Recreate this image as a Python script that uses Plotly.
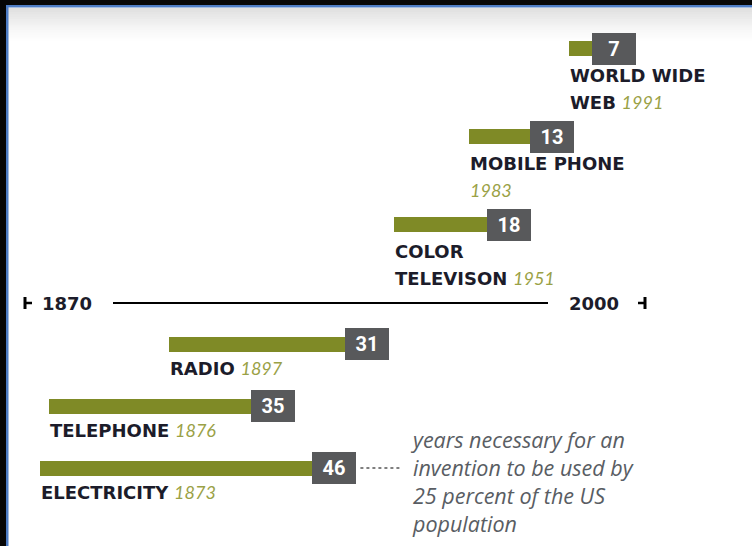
import plotly.graph_objects as go

# ---------------- data ----------------
inventions = ["ELECTRICITY", "TELEPHONE", "RADIO", "COLOR TELEVISON", "MOBILE PHONE", "WORLD WIDE WEB"]
invented_year = [1873, 1876, 1897, 1951, 1983, 1991]
years_to_quarter = [46, 35, 31, 18, 13, 7]
timeline_years = [1870, 2000]
note_lines = ["years necessary for an", "invention to be used by", "25 percent of the US", "population"]

# ---------------- layout parameters ----------------
W, H = 752, 546
PX_PER_YEAR = 6.4                      # bar-length scale (px per year of adoption)
bar_left = [6.25, 7.65, 26.4, 61.6, 73.3, 88.9]   # infographic placement of each bar start
break_after = [0, 0, 0, 1, 2, 2]       # words of the name on first label line (0 = one line)

GREEN = "#7f8a26"
BOX = "#58595b"
NAME_COL = "#1c1c2a"
YEAR_COL = "#9aa146"
NOTE_COL = "#595d63"
BOLD_FONT = "DejaVu Sans"
YEAR_FONT = "Lato"
NOTE_FONT = "Open Sans"

# label lines & line counts
label_lines = []
for name, yr, k in zip(inventions, invented_year, break_after):
    yr_txt = f"<i><span style='font-family:{YEAR_FONT};color:{YEAR_COL}'>{yr}</span></i>"
    words = name.split()
    if k == 0:
        label_lines.append([f"<b>{name}</b> {yr_txt}"])
    else:
        first = " ".join(words[:k])
        rest = " ".join(words[k:])
        second = (f"<b>{rest}</b> " if rest else "") + yr_txt
        label_lines.append([f"<b>{first}</b>", second])
nlines = [len(l) for l in label_lines]

# vertical stacking (y axis in pixel units, top = 0)
BOTTOM_ROW = 468
ROW_BASE, LINE_H, TIMELINE_GAP, LABEL_OFF = 36, 26, 31.5, 24
row_y = [BOTTOM_ROW]
for i in range(1, len(inventions)):
    gap = ROW_BASE + LINE_H * nlines[i]
    if invented_year[i - 1] < 1930 <= invented_year[i]:
        gap += TIMELINE_GAP
    row_y.append(row_y[-1] - gap)
timeline_y = row_y[2] - 41

fig = go.Figure()

fig.add_trace(go.Bar(
    orientation="h", y=row_y, x=years_to_quarter, base=bar_left,
    width=15, marker=dict(color=GREEN, line=dict(width=0)),
    hoverinfo="skip", showlegend=False,
))
# invisible trace to activate timeline axis
fig.add_trace(go.Scatter(x=timeline_years, y=[timeline_y] * 2, xaxis="x2", mode="markers",
                         marker=dict(opacity=0), hoverinfo="skip", showlegend=False))

annotations = []
shapes = []

# value boxes and labels
for i in range(len(inventions)):
    end = bar_left[i] + years_to_quarter[i]
    annotations.append(dict(
        x=end, y=row_y[i], xref="x", yref="y", text=f"<b>{years_to_quarter[i]}</b>",
        showarrow=False, xanchor="center", yanchor="middle",
        font=dict(family="Roboto", size=20, color="white"),
        bgcolor=BOX, width=44, height=32, borderpad=0, borderwidth=0,
    ))
    extra = 3 if nlines[i] == 2 else 0
    for j, line in enumerate(label_lines[i]):
        annotations.append(dict(
            x=bar_left[i], y=row_y[i] + LABEL_OFF + extra + j * LINE_H, xref="x", yref="y",
            text=line, showarrow=False, xanchor="left", yanchor="middle", align="left",
            xshift=-1, font=dict(family=BOLD_FONT, size=18, color=NAME_COL),
        ))

# dotted leader + note
box_half = 22 / PX_PER_YEAR
e_end = bar_left[0] + years_to_quarter[0]
dot_x0 = e_end + box_half + 4 / PX_PER_YEAR
dot_x1 = dot_x0 + 42 / PX_PER_YEAR
shapes.append(dict(type="line", xref="x", yref="y", x0=dot_x0, x1=dot_x1,
                   y0=row_y[0], y1=row_y[0], line=dict(color="#555", width=1.5, dash="dot")))
annotations.append(dict(
    x=dot_x1, y=row_y[0] - 45, xref="x", yref="y", xshift=6,
    text="<br>".join(f"<i>{l}</i>" for l in note_lines),
    showarrow=False, xanchor="left", yanchor="top", align="left",
    font=dict(family=NOTE_FONT, size=21.5, color=NOTE_COL),
))

# timeline axis
TL_PX0, TL_PX1 = 25, 645
ppy = (TL_PX1 - TL_PX0) / (timeline_years[1] - timeline_years[0])
x2_range = [timeline_years[0] - TL_PX0 / ppy, timeline_years[0] + (W - TL_PX0) / ppy]
t0, t1 = timeline_years
shapes += [
    dict(type="line", xref="x2", yref="y", x0=t0 + 88 / ppy, x1=t1 - 97 / ppy,
         y0=timeline_y, y1=timeline_y, line=dict(color="black", width=2)),
    dict(type="line", xref="x2", yref="y", x0=t0, x1=t0, y0=timeline_y - 6, y1=timeline_y + 6,
         line=dict(color="black", width=3)),
    dict(type="line", xref="x2", yref="y", x0=t0, x1=t0 + 7 / ppy, y0=timeline_y, y1=timeline_y,
         line=dict(color="black", width=2.5)),
    dict(type="line", xref="x2", yref="y", x0=t1, x1=t1, y0=timeline_y - 6, y1=timeline_y + 6,
         line=dict(color="black", width=3)),
    dict(type="line", xref="x2", yref="y", x0=t1 - 7 / ppy, x1=t1, y0=timeline_y, y1=timeline_y,
         line=dict(color="black", width=2.5)),
]
annotations += [
    dict(x=t0, y=timeline_y, xref="x2", yref="y", xshift=15, text=f"<b>{t0}</b>",
         showarrow=False, xanchor="left", yanchor="middle",
         font=dict(family=BOLD_FONT, size=18, color=NAME_COL)),
    dict(x=t1, y=timeline_y, xref="x2", yref="y", xshift=-24, text=f"<b>{t1}</b>",
         showarrow=False, xanchor="right", yanchor="middle",
         font=dict(family=BOLD_FONT, size=18, color=NAME_COL)),
]

# frame and top shadow (paper coordinates)
def px_x(p):
    return p / W

def px_y(p):
    return 1 - p / H

n_sh = 16
for k in range(n_sh):
    a = 0.28 * (1 - k / n_sh) ** 1.5
    shapes.append(dict(type="rect", xref="paper", yref="paper", x0=px_x(8), x1=1,
                       y0=px_y(8 + (k + 1) * 2.2), y1=px_y(8 + k * 2.2), line=dict(width=0),
                       fillcolor=f"rgba(140,140,140,{a:.3f})", layer="below"))
shapes += [
    dict(type="rect", xref="paper", yref="paper", x0=0, x1=1, y0=px_y(5), y1=1,
         fillcolor="#060606", line=dict(width=0), layer="above"),
    dict(type="rect", xref="paper", yref="paper", x0=0, x1=px_x(6), y0=0, y1=1,
         fillcolor="#060606", line=dict(width=0), layer="above"),
    dict(type="rect", xref="paper", yref="paper", x0=px_x(6), x1=1, y0=px_y(7.5), y1=px_y(5),
         fillcolor="#4d7cc4", line=dict(width=0), layer="above"),
    dict(type="rect", xref="paper", yref="paper", x0=px_x(6), x1=px_x(8.5), y0=0, y1=px_y(5),
         fillcolor="#4d7cc4", line=dict(width=0), layer="above"),
]

fig.update_layout(
    width=W, height=H, margin=dict(l=0, r=0, t=0, b=0),
    paper_bgcolor="white", plot_bgcolor="white",
    xaxis=dict(range=[0, W / PX_PER_YEAR], visible=False, fixedrange=True),
    xaxis2=dict(range=x2_range, visible=False, overlaying="x", anchor="y"),
    yaxis=dict(range=[H, 0], visible=False),
    annotations=annotations, shapes=shapes, showlegend=False,
    bargap=0,
)

fig.write_html("out.html", config={"displayModeBar": False},
               post_script="document.body.style.margin='0';document.body.style.overflow='hidden';")
